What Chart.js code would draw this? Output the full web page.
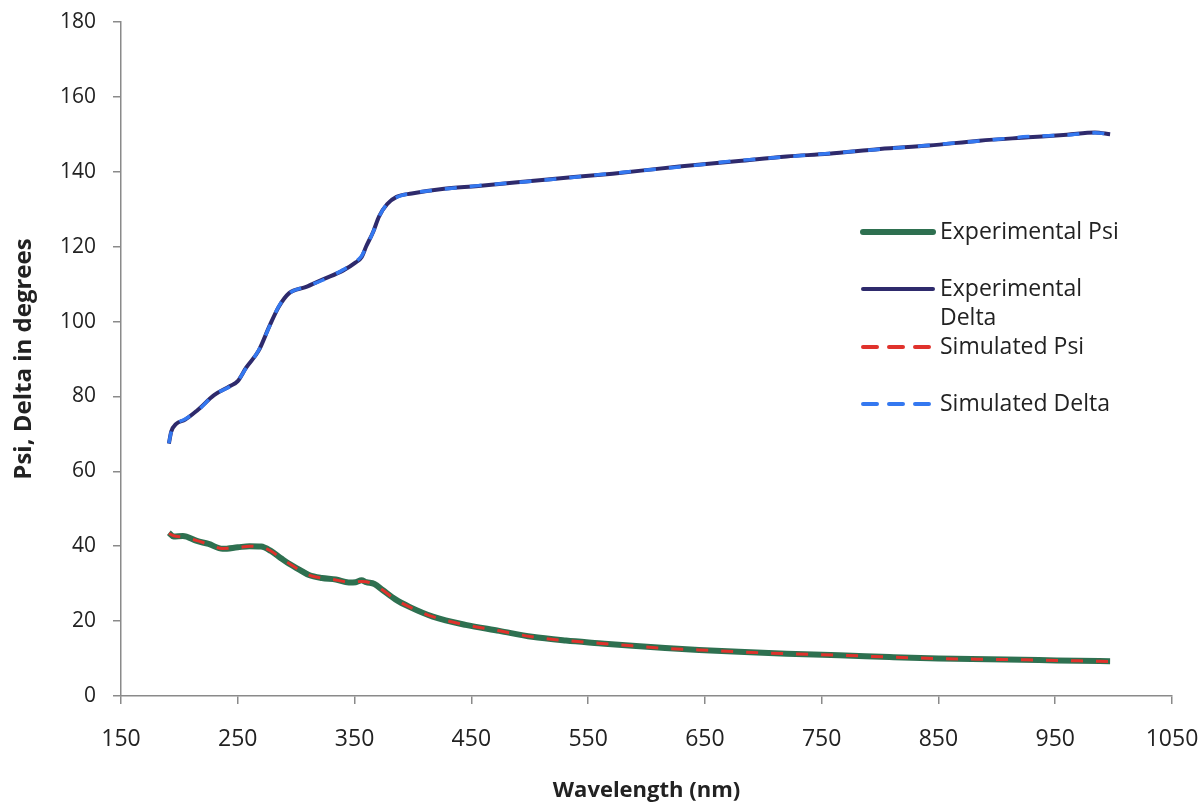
<!DOCTYPE html>
<html>
<head>
<meta charset="utf-8">
<script src="https://cdn.jsdelivr.net/npm/chart.js@4.4.1/dist/chart.umd.min.js"></script>
<style>
  html, body { margin: 0; padding: 0; background: #fff; }
  #wrap { width: 1202px; height: 804px; }
</style>
</head>
<body>
<div id="wrap"><canvas id="myChart" width="1202" height="804"></canvas></div>
<script>
const xTicks = [150, 250, 350, 450, 550, 650, 750, 850, 950, 1050];
const yTicks = [0, 20, 40, 60, 80, 100, 120, 140, 160, 180];

// wavelength (nm) and psi
const psiWl = [191, 195, 203, 215, 225, 237, 250, 260, 270, 278, 287, 294, 303, 311, 322, 334, 345, 351, 356, 360, 367, 374, 385, 397, 417, 445, 474, 502, 531, 559, 588, 616, 645, 679, 720, 765, 808, 850, 893, 936, 970, 997];
const expPsi = [43.6, 42.6, 42.7, 41.4, 40.6, 39.3, 39.7, 40.0, 39.9, 38.8, 36.8, 35.3, 33.7, 32.3, 31.5, 31.1, 30.3, 30.4, 30.9, 30.4, 29.9, 28.3, 25.8, 23.8, 21.2, 19.0, 17.4, 15.8, 14.8, 14.1, 13.4, 12.8, 12.3, 11.8, 11.3, 10.9, 10.4, 10.0, 9.8, 9.6, 9.4, 9.3];
const simPsi = [43.4, 42.8, 42.4, 41.5, 40.5, 39.4, 39.6, 40.0, 39.8, 38.8, 36.8, 35.4, 33.6, 32.3, 31.5, 31.0, 30.4, 30.5, 30.6, 30.5, 29.8, 28.3, 25.8, 23.8, 21.2, 19.0, 17.4, 15.8, 14.8, 14.1, 13.4, 12.7, 12.3, 11.8, 11.3, 10.9, 10.4, 10.0, 9.8, 9.6, 9.4, 9.2];

// wavelength (nm) and delta
const deltaWl = [191, 193, 197, 205, 215, 230, 243, 250, 257, 268, 277, 285, 294, 308, 323, 340, 351, 356, 360, 366, 371, 378, 386, 399, 425, 456, 513, 571, 628, 679, 720, 756, 800, 842, 885, 927, 960, 984, 997];
const expDelta = [67.4, 70.6, 72.6, 73.8, 76.2, 80.4, 82.7, 84.1, 87.6, 92.3, 98.7, 103.9, 107.6, 109.2, 111.3, 113.6, 115.8, 117.2, 120.1, 124.0, 128.1, 131.4, 133.3, 134.2, 135.4, 136.2, 137.9, 139.5, 141.4, 142.9, 144.1, 144.8, 146.1, 147.0, 148.3, 149.2, 149.9, 150.5, 150.0];
const simDelta = [67.5, 70.5, 72.5, 74.0, 76.0, 80.5, 82.6, 84.2, 87.5, 92.4, 98.6, 104.0, 107.5, 109.3, 111.1, 113.8, 116.0, 117.5, 120.0, 124.0, 128.0, 131.5, 133.2, 134.3, 135.3, 136.3, 137.8, 139.6, 141.3, 143.0, 144.0, 144.9, 146.0, 147.1, 148.2, 149.4, 149.8, 150.4, 150.0];

const pts = (xs, ys) => xs.map((x, i) => ({ x: x, y: ys[i] }));

// legend drawn on the right, like the original
const sideLegend = {
    id: 'sideLegend',
    afterDraw(chart) {
        const c = chart.ctx;
        const x0 = 863, lineLen = 70, textX = 940, maxW = 190;
        let y = 232;
        c.save();
        c.font = '23px "Open Sans", sans-serif';
        c.textBaseline = 'middle';
        c.fillStyle = '#222';
        chart.data.datasets.forEach(ds => {
            c.beginPath();
            c.strokeStyle = ds.borderColor;
            c.lineWidth = ds.legendWidth;
            c.lineCap = 'round';
            c.setLineDash(ds.legendDash || []);
            c.moveTo(x0, y);
            c.lineTo(x0 + lineLen, y);
            c.stroke();
            c.setLineDash([]);
            // simple word wrap
            const words = ds.label.split(' ');
            let line = '', ly = y;
            words.forEach(w => {
                const test = line ? line + ' ' + w : w;
                if (c.measureText(test).width > maxW && line) {
                    c.fillText(line, textX, ly);
                    line = w;
                    ly += 29;
                } else {
                    line = test;
                }
            });
            c.fillText(line, textX, ly);
            y = ly > y ? ly + 29 : y + 57;
        });
        c.restore();
    }
};

const ctx = document.getElementById('myChart').getContext('2d');
const chart = new Chart(ctx, {
    type: 'line',
    data: {
        datasets: [
            {
                label: 'Experimental Psi',
                data: pts(psiWl, expPsi),
                borderColor: '#2e7050',
                borderWidth: 6,
                legendWidth: 6,
                order: 2,
            },
            {
                label: 'Experimental Delta',
                data: pts(deltaWl, expDelta),
                borderColor: '#2e2a6c',
                borderWidth: 4,
                legendWidth: 4,
                order: 2,
            },
            {
                label: 'Simulated Psi',
                data: pts(psiWl, simPsi),
                borderColor: '#e0322c',
                borderWidth: 3,
                borderDash: [12, 13],
                legendDash: [14, 12],
                legendWidth: 4,
                order: 1,
            },
            {
                label: 'Simulated Delta',
                data: pts(deltaWl, simDelta),
                borderColor: '#3478f0',
                borderWidth: 3.5,
                borderDash: [12, 13],
                legendDash: [14, 12],
                legendWidth: 4,
                order: 1,
            },
        ],
    },
    options: {
        responsive: false,
        animation: false,
        events: [],
        elements: {
            point: { radius: 0 },
            line: { tension: 0.3, fill: false, cubicInterpolationMode: 'monotone' },
        },
        layout: { padding: { left: 0, right: 30, top: 22, bottom: 0 } },
        plugins: {
            legend: { display: false },
            tooltip: { enabled: false },
        },
        scales: {
            x: {
                type: 'linear',
                min: 150,
                max: 1050,
                afterBuildTicks: s => { s.ticks = xTicks.map(v => ({ value: v })); },
                afterFit: s => { s.height = 108; s.paddingLeft = 0; s.paddingRight = 0; },
                grid: { display: true, drawOnChartArea: false, drawTicks: true, tickLength: 8, color: '#8a8a8a', lineWidth: 1.5 },
                border: { display: true, color: '#8a8a8a', width: 1.5 },
                ticks: {
                    color: '#222',
                    padding: 22,
                    font: { family: '"Open Sans", sans-serif', size: 23 },
                    maxRotation: 0,
                    callback: v => String(v),
                },
                title: {
                    display: true,
                    text: 'Wavelength (nm)',
                    color: '#222',
                    font: { family: '"Open Sans", sans-serif', size: 22, weight: 'bold' },
                    padding: { top: 10, bottom: 0 },
                },
            },
            y: {
                min: 0,
                max: 180,
                afterBuildTicks: s => { s.ticks = yTicks.map(v => ({ value: v })); },
                afterFit: s => { s.width = 121; s.paddingTop = 0; s.paddingBottom = 0; },
                grid: { display: true, drawOnChartArea: false, drawTicks: true, tickLength: 8, color: '#8a8a8a', lineWidth: 1.5 },
                border: { display: true, color: '#8a8a8a', width: 1.5 },
                ticks: {
                    color: '#222',
                    padding: 17,
                    font: { family: '"Open Sans", sans-serif', size: 21 },
                },
                title: {
                    display: true,
                    text: 'Psi, Delta in degrees',
                    color: '#222',
                    font: { family: '"Open Sans", sans-serif', size: 24, weight: 'bold' },
                    padding: { top: 10, bottom: 0 },
                },
            },
        },
    },
    plugins: [sideLegend],
});
</script>
</body>
</html>
